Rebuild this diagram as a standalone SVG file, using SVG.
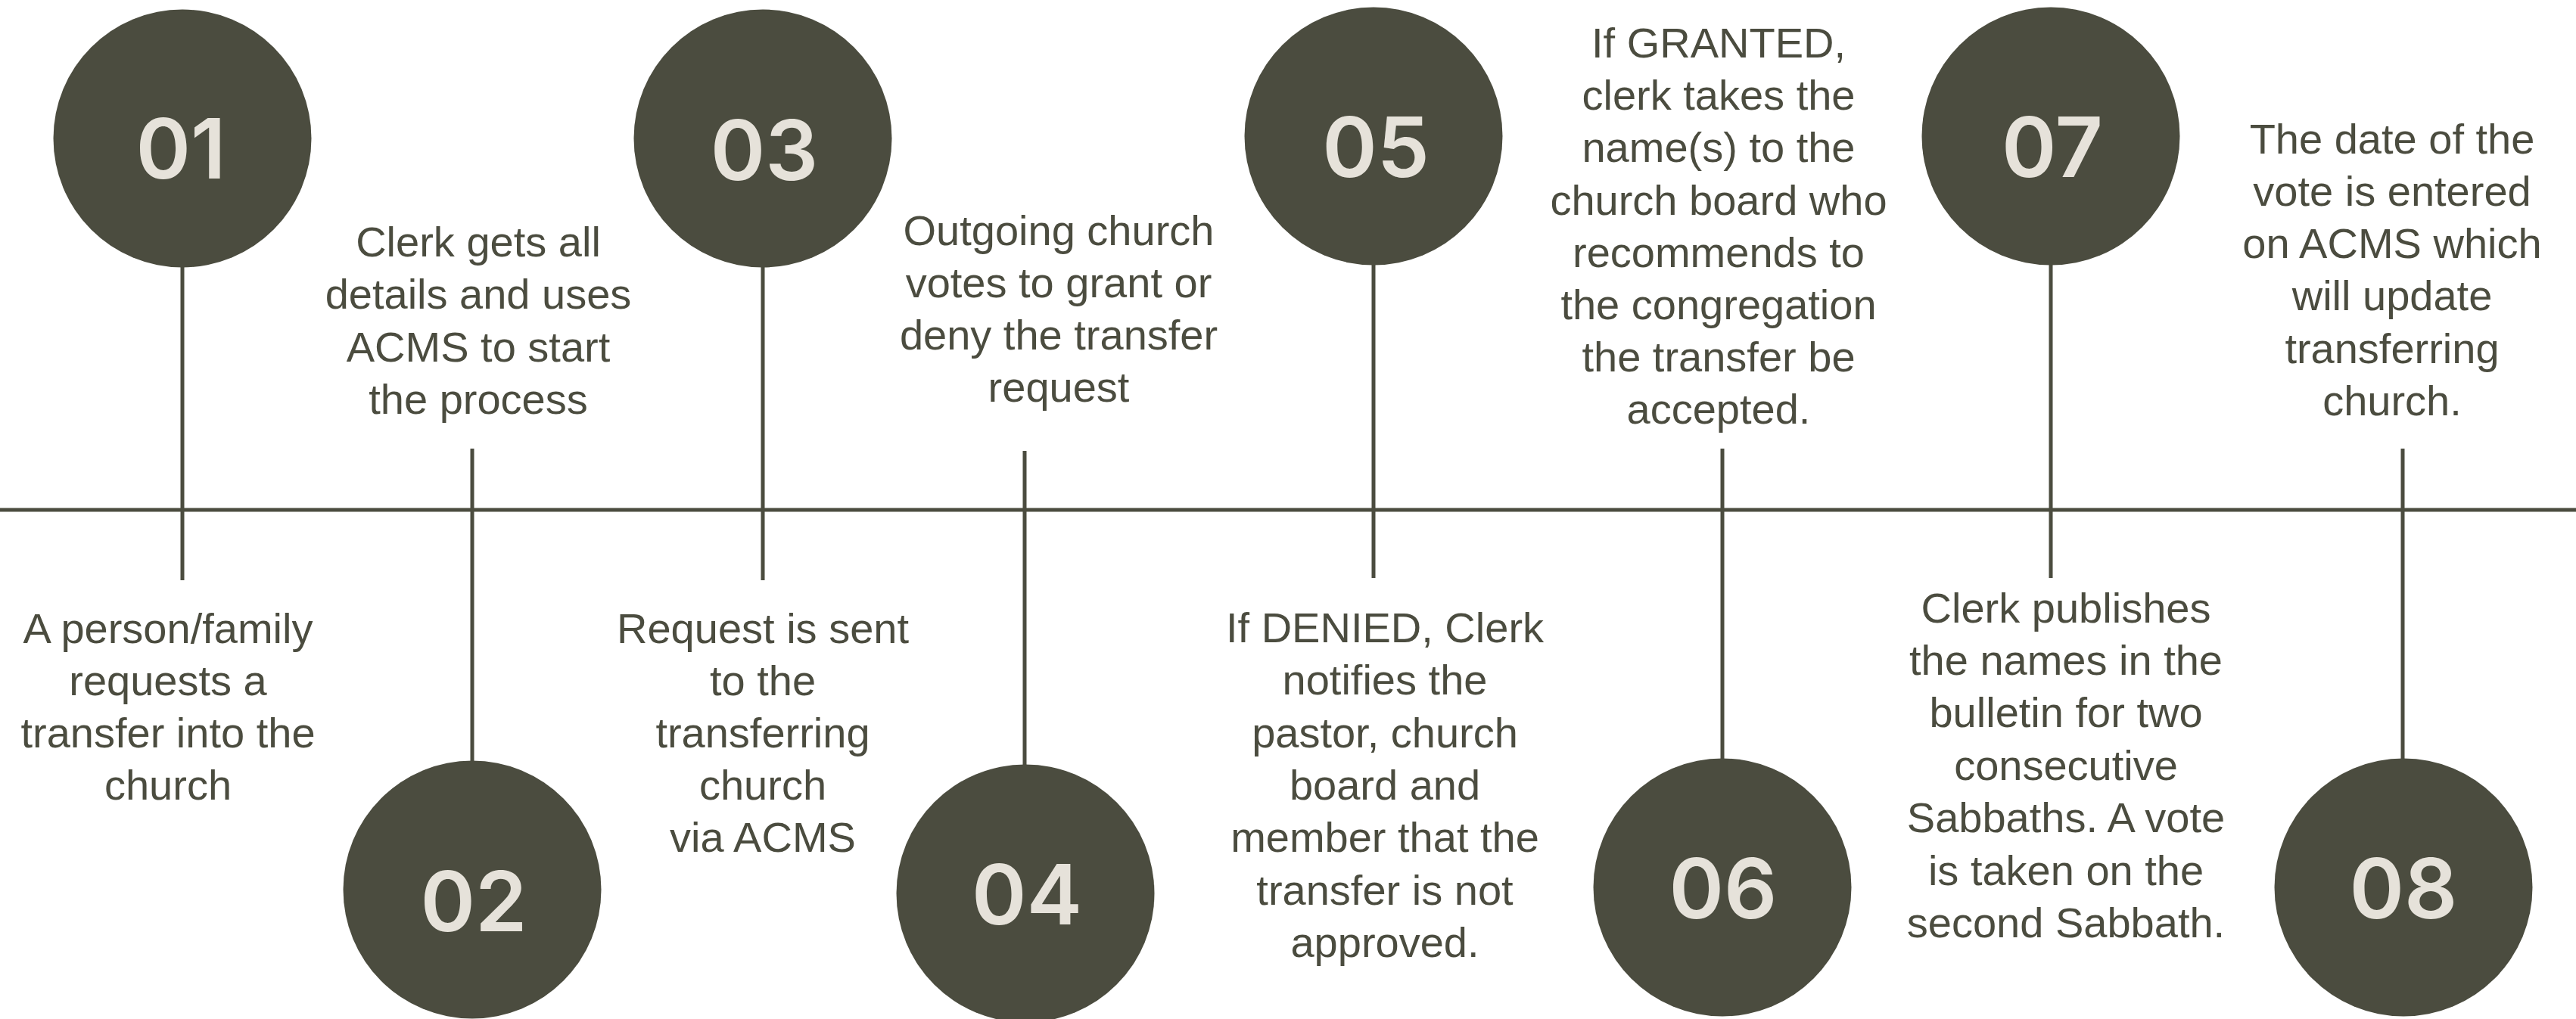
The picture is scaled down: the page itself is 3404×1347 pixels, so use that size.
<svg xmlns="http://www.w3.org/2000/svg" width="3404" height="1347" viewBox="0 0 3404 1347">
<style>
.bg{fill:#FFFFFF}
.dot{fill:#4B4C3F}
.num{font-family:"Inter","Noto Sans",sans-serif;font-weight:600;font-size:110px;fill:#E6E2DA;text-anchor:middle}
.lbl{font-family:"Liberation Sans","Noto Sans",sans-serif;font-size:56px;fill:#4B4C3F;text-anchor:middle}
.ln{stroke:#4B4C3F;stroke-width:5;fill:none}
</style>
<rect class="bg" x="0" y="0" width="3404" height="1347"/>
<g id="connectors">
<line class="ln" x1="0" y1="674" x2="3404" y2="674"/>
<line class="ln" x1="241" y1="350" x2="241" y2="767"/>
<line class="ln" x1="624" y1="593" x2="624" y2="1010"/>
<line class="ln" x1="1008" y1="350" x2="1008" y2="767"/>
<line class="ln" x1="1354" y1="596" x2="1354" y2="1015"/>
<line class="ln" x1="1815" y1="347" x2="1815" y2="764"/>
<line class="ln" x1="2276" y1="593" x2="2276" y2="1007"/>
<line class="ln" x1="2710" y1="347" x2="2710" y2="764"/>
<line class="ln" x1="3175" y1="593" x2="3175" y2="1007"/>
</g>
<g id="step01">
<circle class="dot" cx="241" cy="183" r="170.5"/>
<text class="num" x="239" y="236">01</text>
<text class="lbl" x="222" y="850">A person/family</text>
<text class="lbl" x="222" y="919">requests a</text>
<text class="lbl" x="222" y="988">transfer into the</text>
<text class="lbl" x="222" y="1057">church</text>
</g>
<g id="step02">
<circle class="dot" cx="624" cy="1176" r="170.5"/>
<text class="num" x="626" y="1231">02</text>
<text class="lbl" x="632" y="339">Clerk gets all</text>
<text class="lbl" x="632" y="408">details and uses</text>
<text class="lbl" x="632" y="478">ACMS to start</text>
<text class="lbl" x="632" y="547">the process</text>
</g>
<g id="step03">
<circle class="dot" cx="1008" cy="183" r="170.5"/>
<text class="num" x="1010" y="238">03</text>
<text class="lbl" x="1008" y="850">Request is sent</text>
<text class="lbl" x="1008" y="919">to the</text>
<text class="lbl" x="1008" y="988">transferring</text>
<text class="lbl" x="1008" y="1057">church</text>
<text class="lbl" x="1008" y="1126">via ACMS</text>
</g>
<g id="step04">
<circle class="dot" cx="1355" cy="1181" r="170.5"/>
<text class="num" x="1357" y="1222">04</text>
<text class="lbl" x="1399" y="324">Outgoing church</text>
<text class="lbl" x="1399" y="393">votes to grant or</text>
<text class="lbl" x="1399" y="462">deny the transfer</text>
<text class="lbl" x="1399" y="531">request</text>
</g>
<g id="step05">
<circle class="dot" cx="1815" cy="180" r="170.5"/>
<text class="num" x="1818" y="234">05</text>
<text class="lbl" x="1830" y="849">If DENIED, Clerk</text>
<text class="lbl" x="1830" y="918">notifies the</text>
<text class="lbl" x="1830" y="988">pastor, church</text>
<text class="lbl" x="1830" y="1057">board and</text>
<text class="lbl" x="1830" y="1126">member that the</text>
<text class="lbl" x="1830" y="1196">transfer is not</text>
<text class="lbl" x="1830" y="1265">approved.</text>
</g>
<g id="step06">
<circle class="dot" cx="2276" cy="1173" r="170.5"/>
<text class="num" x="2277" y="1214">06</text>
<text class="lbl" x="2271" y="76">If GRANTED,</text>
<text class="lbl" x="2271" y="145">clerk takes the</text>
<text class="lbl" x="2271" y="214">name(s) to the</text>
<text class="lbl" x="2271" y="284">church board who</text>
<text class="lbl" x="2271" y="353">recommends to</text>
<text class="lbl" x="2271" y="422">the congregation</text>
<text class="lbl" x="2271" y="491">the transfer be</text>
<text class="lbl" x="2271" y="560">accepted.</text>
</g>
<g id="step07">
<circle class="dot" cx="2710" cy="180" r="170.5"/>
<text class="num" x="2712" y="234">07</text>
<text class="lbl" x="2730" y="823">Clerk publishes</text>
<text class="lbl" x="2730" y="892">the names in the</text>
<text class="lbl" x="2730" y="961">bulletin for two</text>
<text class="lbl" x="2730" y="1031">consecutive</text>
<text class="lbl" x="2730" y="1100">Sabbaths. A vote</text>
<text class="lbl" x="2730" y="1170">is taken on the</text>
<text class="lbl" x="2730" y="1239">second Sabbath.</text>
</g>
<g id="step08">
<circle class="dot" cx="3176" cy="1173" r="170.5"/>
<text class="num" x="3176" y="1214">08</text>
<text class="lbl" x="3161" y="203">The date of the</text>
<text class="lbl" x="3161" y="272">vote is entered</text>
<text class="lbl" x="3161" y="341">on ACMS which</text>
<text class="lbl" x="3161" y="410">will update</text>
<text class="lbl" x="3161" y="480">transferring</text>
<text class="lbl" x="3161" y="549">church.</text>
</g>
</svg>
